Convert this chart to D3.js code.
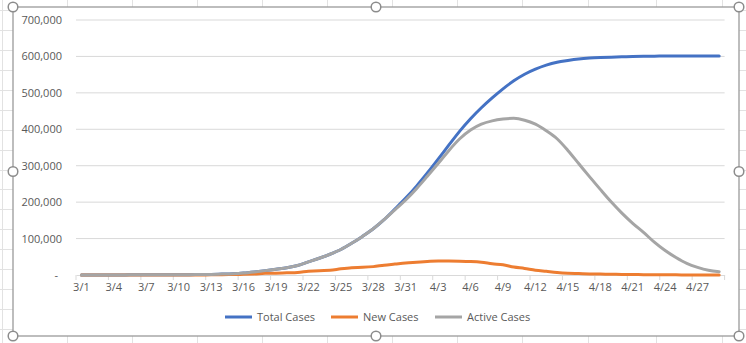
<!DOCTYPE html>
<html><head><meta charset="utf-8">
<script src="https://cdn.jsdelivr.net/npm/d3@7/dist/d3.min.js"></script>
<style>
html,body{margin:0;padding:0;background:#fff;}
svg{display:block;}
text{font-family:"Open Sans","Noto Sans",sans-serif;}
</style></head>
<body>
<svg id="c" width="746" height="343"></svg>
<script>
// ---- data ----
const dates = [];
for (let d = 1; d <= 31; d++) dates.push("3/" + d);
for (let d = 1; d <= 29; d++) dates.push("4/" + d);

const totalCases = [
  100,100,150,200,300,400,500,600,700,800,
  1000,1300,1700,2500,3500,5500,8500,12000,16000,20000,
  26000,36000,46000,57000,70000,87000,106000,127000,152000,181000,
  211000,244000,280000,318000,357000,395000,429000,459000,486000,511000,
  533000,551000,565000,576000,584000,589000,593000,595500,597000,598000,
  599000,600000,600500,600800,601000,601000,601000,601000,601000,601000
];
const newCases = [
  100,100,100,100,100,100,100,100,100,200,
  200,300,400,800,1200,2000,3000,4500,5000,6000,
  7000,10000,12000,13000,17000,20000,21000,23000,27000,30000,
  33000,35000,37000,38500,38500,38000,37000,35000,31000,28000,
  22000,18000,13000,10000,7000,5000,4000,3000,2500,2000,
  1500,1200,1000,800,600,400,300,200,100,100
];
const activeCases = [
  100,100,150,200,300,400,500,600,700,800,
  1000,1300,1700,2500,3500,5500,8500,12000,16000,20000,
  26000,36000,46000,57000,70000,87000,106000,127000,152000,179000,
  206000,237000,271000,306000,342000,374000,398000,414000,423000,428000,
  430000,425000,414000,396000,374000,342000,306000,270000,235000,201000,
  170000,142000,117000,90000,67000,48000,32000,21000,13000,9000
];
const seriesNames = ["Total Cases","New Cases","Active Cases"];
const seriesColors = ["#4472C4","#ED7D31","#A5A5A5"];
const yTicks = [0,100000,200000,300000,400000,500000,600000,700000];
const xLabelEvery = 3;

// ---- spreadsheet background ----
const svg = d3.select("#c");
const W = 746, H = 343;
svg.append("rect").attr("width",W).attr("height",H).attr("fill","#fff");
const colX = [2,67,132,197,262,327,392,457,522,588,656,722];
const rowY = d3.range(-1,17).map(k => 30 + 19.93*k);
const bg = svg.append("g").attr("stroke","#e2e2e2").attr("stroke-width",1).attr("shape-rendering","crispEdges");
colX.forEach(x => bg.append("line").attr("x1",x+0.5).attr("x2",x+0.5).attr("y1",0).attr("y2",H));
rowY.forEach(y => bg.append("line").attr("x1",0).attr("x2",W).attr("y1",Math.round(y)+0.5).attr("y2",Math.round(y)+0.5));

// chart area
const cx0 = 13, cy0 = 7, cx1 = 739, cy1 = 336;
svg.append("rect").attr("x",cx0).attr("y",cy0).attr("width",cx1-cx0).attr("height",cy1-cy0)
  .attr("fill","#fff").attr("stroke","#9a9a9a").attr("stroke-width",1.3);

// ---- scales ----
const x = d3.scaleBand().domain(dates).range([76,724.6]).padding(0);
const y = d3.scaleLinear().domain([0,700000]).range([275,20]);
const xc = d => x(d) + x.bandwidth()/2;

// gridlines
const grid = svg.append("g");
yTicks.forEach(t => {
  if (t === 0) return;
  grid.append("line").attr("x1",76).attr("x2",724.6).attr("y1",y(t)).attr("y2",y(t))
    .attr("stroke","#d9d9d9").attr("stroke-width",1);
});

// y axis labels
const fmt = d3.format(",");
const yAxis = d3.axisLeft(y).tickValues(yTicks).tickSize(0).tickPadding(0)
  .tickFormat(d => d === 0 ? "-" : fmt(d));
const yg = svg.append("g").attr("transform","translate(62,0)").call(yAxis);
yg.select(".domain").remove();
yg.selectAll("text").attr("fill","#595959").style("font-size","11px")
  .attr("font-family","Open Sans, Noto Sans, sans-serif");
yg.selectAll(".tick").filter(d => d === 0).select("text").attr("x",-4);

// x axis
const xAxis = d3.axisBottom(x).tickSize(0).tickPadding(8)
  .tickValues(dates.filter((d,i) => i % xLabelEvery === 0));
const xg = svg.append("g").attr("transform","translate(0,275)").call(xAxis);
xg.select(".domain").attr("stroke","#d9d9d9").attr("stroke-width",1);
xg.selectAll("text").attr("fill","#595959").style("font-size","11px")
  .attr("font-family","Open Sans, Noto Sans, sans-serif");
// tick marks at category boundaries
const tg = svg.append("g");
dates.forEach((d,i) => {
  if (i % xLabelEvery === 0) {
    tg.append("line").attr("x1",x(d)).attr("x2",x(d)).attr("y1",275).attr("y2",280)
      .attr("stroke","#d9d9d9").attr("stroke-width",1);
  }
});
tg.append("line").attr("x1",724.6).attr("x2",724.6).attr("y1",275).attr("y2",280)
  .attr("stroke","#d9d9d9").attr("stroke-width",1);

// lines
const allSeries = [totalCases,newCases,activeCases];
const line = d3.line().x((v,i) => xc(dates[i])).y(v => y(v)).curve(d3.curveMonotoneX);
allSeries.forEach((s,k) => {
  svg.append("path").datum(s).attr("d",line).attr("fill","none")
    .attr("stroke",seriesColors[k]).attr("stroke-width",3)
    .attr("stroke-linejoin","round").attr("stroke-linecap","round");
});

// legend
const legX = [225,331,435];
const lg = svg.append("g");
seriesNames.forEach((n,k) => {
  lg.append("line").attr("x1",legX[k]).attr("x2",legX[k]+27).attr("y1",317).attr("y2",317)
    .attr("stroke",seriesColors[k]).attr("stroke-width",3);
  lg.append("text").attr("x",legX[k]+32).attr("y",317).attr("dy","0.35em")
    .attr("fill","#595959").style("font-size","11px").text(n);
});

// selection handles
const hx = [cx0,(cx0+cx1)/2,cx1], hy = [cy0,(cy0+cy1)/2,cy1];
hx.forEach((px,i) => hy.forEach((py,j) => {
  if (i === 1 && j === 1) return;
  svg.append("circle").attr("cx",px).attr("cy",py).attr("r",4.8)
    .attr("fill","#fff").attr("stroke","#8c8c8c").attr("stroke-width",1.5);
}));
</script>
</body></html>
